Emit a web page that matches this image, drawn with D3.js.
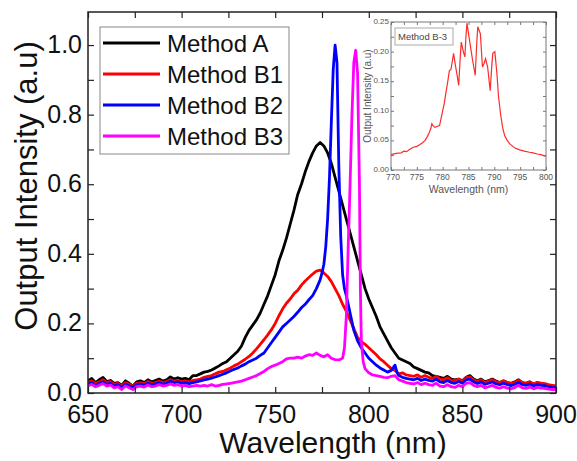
<!DOCTYPE html>
<html><head><meta charset="utf-8">
<script src="https://cdn.jsdelivr.net/npm/d3@7/dist/d3.min.js"></script>
<style>body{margin:0;background:#fff}svg{display:block;font-family:"Liberation Sans",Arial,sans-serif}</style>
</head><body><svg id="c" width="577" height="461"></svg>
<script>
// ---- data ----
const seriesNames = ["Method A", "Method B1", "Method B2", "Method B3"];
const seriesColors = ["#000000", "#ff0000", "#0000ff", "#ff00ff"];
const xTicks = [650, 700, 750, 800, 850, 900];
const yTicks = [0.0, 0.2, 0.4, 0.6, 0.8, 1.0];
const insetXTicks = [770, 775, 780, 785, 790, 795, 800];
const insetYTicks = [0.00, 0.05, 0.10, 0.15, 0.20, 0.25];

const methodA = [[650,0.035],[652,0.042],[654,0.03],[656,0.038],[658,0.045],[660,0.033],[662,0.036],[664,0.028],[666,0.03],[668,0.022],[670,0.035],[672,0.028],[674,0.02],[676,0.032],[678,0.035],[680,0.03],[682,0.038],[684,0.032],[686,0.036],[688,0.04],[690,0.034],[692,0.038],[694,0.046],[696,0.04],[698,0.044],[700,0.04],[702,0.042],[704,0.038],[706,0.05],[708,0.05],[710,0.055],[712,0.06],[714,0.062],[716,0.066],[718,0.072],[720,0.078],[722,0.085],[724,0.09],[726,0.1],[728,0.11],[730,0.12],[732,0.135],[734,0.16],[736,0.18],[738,0.195],[740,0.21],[742,0.23],[744,0.255],[746,0.28],[748,0.31],[750,0.34],[752,0.38],[754,0.41],[756,0.445],[758,0.485],[760,0.525],[762,0.57],[764,0.6],[766,0.635],[768,0.665],[770,0.69],[772,0.71],[774,0.72],[776,0.71],[778,0.69],[780,0.66],[782,0.62],[784,0.58],[786,0.54],[788,0.5],[790,0.46],[792,0.42],[794,0.38],[796,0.34],[798,0.3],[800,0.27],[802,0.245],[804,0.22],[806,0.19],[808,0.17],[810,0.15],[812,0.13],[814,0.115],[816,0.1],[818,0.095],[820,0.09],[822,0.085],[824,0.075],[826,0.07],[828,0.065],[830,0.06],[832,0.058],[834,0.05],[836,0.048],[838,0.045],[840,0.042],[842,0.048],[844,0.04],[846,0.038],[848,0.04],[850,0.035],[852,0.045],[854,0.05],[856,0.04],[858,0.035],[860,0.04],[862,0.032],[864,0.036],[866,0.04],[868,0.034],[870,0.03],[872,0.035],[874,0.03],[876,0.028],[878,0.032],[880,0.038],[882,0.03],[884,0.028],[886,0.032],[888,0.025],[890,0.03],[892,0.028],[894,0.025],[896,0.022],[898,0.02],[900,0.018]];

const methodB1 = [[650,0.03],[652,0.035],[654,0.028],[656,0.032],[658,0.038],[660,0.03],[662,0.033],[664,0.025],[666,0.028],[668,0.02],[670,0.03],[672,0.025],[674,0.02],[676,0.028],[678,0.03],[680,0.027],[682,0.033],[684,0.028],[686,0.03],[688,0.034],[690,0.03],[692,0.033],[694,0.038],[696,0.034],[698,0.036],[700,0.033],[702,0.035],[704,0.032],[706,0.036],[708,0.038],[710,0.04],[712,0.045],[714,0.048],[716,0.05],[718,0.055],[720,0.06],[722,0.062],[724,0.067],[726,0.072],[728,0.078],[730,0.083],[732,0.09],[734,0.097],[736,0.105],[738,0.115],[740,0.127],[742,0.14],[744,0.153],[746,0.167],[748,0.182],[750,0.2],[752,0.222],[754,0.242],[756,0.258],[758,0.27],[760,0.285],[762,0.295],[764,0.31],[766,0.322],[768,0.332],[770,0.342],[772,0.35],[774,0.353],[776,0.345],[778,0.335],[780,0.32],[782,0.3],[784,0.28],[786,0.255],[788,0.235],[790,0.21],[792,0.185],[794,0.16],[796,0.148],[798,0.14],[800,0.13],[802,0.12],[804,0.11],[806,0.098],[808,0.09],[810,0.08],[812,0.07],[814,0.065],[816,0.055],[818,0.058],[820,0.052],[822,0.05],[824,0.048],[826,0.052],[828,0.045],[830,0.05],[832,0.045],[834,0.042],[836,0.048],[838,0.04],[840,0.038],[842,0.044],[844,0.036],[846,0.035],[848,0.04],[850,0.034],[852,0.044],[854,0.046],[856,0.038],[858,0.033],[860,0.038],[862,0.03],[864,0.034],[866,0.038],[868,0.032],[870,0.03],[872,0.034],[874,0.03],[876,0.027],[878,0.03],[880,0.036],[882,0.03],[884,0.028],[886,0.032],[888,0.026],[890,0.03],[892,0.028],[894,0.027],[896,0.024],[898,0.022],[900,0.02]];

const methodB2 = [[650,0.025],[652,0.03],[654,0.022],[656,0.027],[658,0.032],[660,0.025],[662,0.028],[664,0.02],[666,0.024],[668,0.016],[670,0.026],[672,0.02],[674,0.016],[676,0.024],[678,0.026],[680,0.022],[682,0.028],[684,0.024],[686,0.026],[688,0.03],[690,0.026],[692,0.028],[694,0.034],[696,0.03],[698,0.032],[700,0.028],[702,0.03],[704,0.027],[706,0.03],[708,0.032],[710,0.035],[712,0.038],[714,0.04],[716,0.043],[718,0.046],[720,0.05],[722,0.054],[724,0.058],[726,0.063],[728,0.068],[730,0.072],[732,0.078],[734,0.083],[736,0.09],[738,0.095],[740,0.1],[742,0.108],[744,0.115],[746,0.13],[748,0.145],[750,0.16],[752,0.175],[754,0.19],[756,0.2],[758,0.21],[760,0.22],[762,0.232],[764,0.245],[766,0.255],[768,0.268],[770,0.28],[772,0.3],[774,0.325],[775,0.345],[776,0.37],[777,0.42],[778,0.5],[779,0.62],[780,0.78],[781,0.93],[782,1.0],[783,0.95],[784,0.65],[785,0.45],[786,0.34],[787,0.3],[788,0.28],[790,0.23],[792,0.18],[794,0.15],[796,0.13],[798,0.115],[800,0.1],[802,0.09],[804,0.08],[806,0.072],[808,0.066],[810,0.06],[812,0.065],[814,0.08],[815,0.06],[816,0.05],[818,0.045],[820,0.042],[822,0.04],[824,0.038],[826,0.042],[828,0.036],[830,0.04],[832,0.036],[834,0.034],[836,0.04],[838,0.032],[840,0.03],[842,0.036],[844,0.03],[846,0.028],[848,0.033],[850,0.028],[852,0.038],[854,0.04],[856,0.032],[858,0.027],[860,0.032],[862,0.025],[864,0.028],[866,0.032],[868,0.026],[870,0.024],[872,0.028],[874,0.024],[876,0.021],[878,0.025],[880,0.03],[882,0.024],[884,0.022],[886,0.026],[888,0.02],[890,0.024],[892,0.022],[894,0.021],[896,0.018],[898,0.016],[900,0.015]];

const methodB3 = [[650,0.02],[652,0.025],[654,0.018],[656,0.022],[658,0.027],[660,0.02],[662,0.023],[664,0.015],[666,0.018],[668,0.01],[670,0.02],[672,0.015],[674,0.01],[676,0.018],[678,0.02],[680,0.017],[682,0.023],[684,0.018],[686,0.02],[688,0.024],[690,0.02],[692,0.022],[694,0.026],[696,0.022],[698,0.024],[700,0.02],[702,0.022],[704,0.018],[706,0.02],[708,0.022],[710,0.02],[712,0.022],[714,0.02],[716,0.024],[718,0.02],[720,0.022],[722,0.025],[724,0.026],[726,0.028],[728,0.03],[730,0.032],[732,0.034],[734,0.038],[736,0.042],[738,0.046],[740,0.05],[742,0.056],[744,0.062],[746,0.07],[748,0.076],[750,0.08],[752,0.085],[754,0.09],[756,0.098],[758,0.1],[760,0.1],[762,0.103],[764,0.1],[766,0.106],[768,0.11],[770,0.108],[772,0.115],[774,0.108],[776,0.104],[778,0.11],[780,0.1],[782,0.096],[784,0.095],[786,0.1],[787,0.13],[788,0.22],[789,0.42],[790,0.6],[791,0.8],[792,0.95],[793,0.985],[794,0.92],[795,0.6],[795.5,0.3],[796,0.15],[797,0.09],[798,0.07],[800,0.058],[802,0.052],[804,0.05],[806,0.048],[808,0.045],[810,0.044],[812,0.048],[814,0.05],[816,0.038],[818,0.034],[820,0.03],[822,0.028],[824,0.026],[826,0.03],[828,0.024],[830,0.028],[832,0.024],[834,0.022],[836,0.028],[838,0.02],[840,0.018],[842,0.024],[844,0.018],[846,0.016],[848,0.022],[850,0.018],[852,0.028],[854,0.03],[856,0.022],[858,0.018],[860,0.022],[862,0.015],[864,0.018],[866,0.022],[868,0.016],[870,0.014],[872,0.018],[874,0.014],[876,0.012],[878,0.016],[880,0.022],[882,0.015],[884,0.013],[886,0.017],[888,0.012],[890,0.016],[892,0.014],[894,0.013],[896,0.011],[898,0.01],[900,0.01]];

const insetB3 = [[770,0.026],[771,0.028],[772,0.029],[772.5,0.032],[773,0.031],[773.5,0.034],[774.2,0.038],[775,0.04],[775.6,0.043],[776.1,0.046],[776.6,0.05],[777,0.056],[777.4,0.063],[777.7,0.07],[777.9,0.078],[778.2,0.074],[778.5,0.072],[779,0.074],[779.4,0.075],[780,0.1],[780.3,0.112],[780.6,0.129],[781,0.15],[781.3,0.168],[781.6,0.17],[781.9,0.185],[782.1,0.197],[782.5,0.175],[782.8,0.16],[783.1,0.143],[783.4,0.19],[783.6,0.216],[784,0.2],[784.3,0.191],[784.5,0.225],[784.7,0.248],[785.2,0.219],[785.8,0.185],[786.3,0.16],[786.6,0.215],[786.8,0.242],[787.3,0.23],[787.7,0.174],[788,0.18],[788.3,0.188],[788.7,0.174],[789.2,0.134],[789.5,0.175],[789.7,0.197],[790.1,0.2],[790.5,0.163],[790.8,0.125],[791.2,0.095],[791.6,0.072],[792,0.058],[792.5,0.05],[793,0.044],[794,0.037],[794.9,0.034],[795.8,0.032],[796.8,0.03],[797.5,0.029],[798.3,0.027],[799,0.026],[799.7,0.024],[800,0.024]];

const allSeries = [methodA, methodB1, methodB2, methodB3];

// ---- layout ----
const svg = d3.select("#c");
const L = 88, R = 556, T = 12, B = 393;
const x = d3.scaleLinear().domain([650, 900]).range([L, R]);
const y = d3.scaleLinear().domain([0, 1.095]).range([B, T]);

svg.append("clipPath").attr("id","cp").append("rect")
  .attr("x",L).attr("y",T).attr("width",R-L).attr("height",B-T);

const line = d3.line().x(d=>x(d[0])).y(d=>y(d[1]));
svg.append("g").attr("clip-path","url(#cp)").selectAll("path").data(allSeries).join("path")
  .attr("d", line).attr("fill","none")
  .attr("stroke",(d,i)=>seriesColors[i]).attr("stroke-width",2.8).attr("stroke-linejoin","round");

// axes (inward ticks)
const xMinor = d3.range(650, 901, 25);
const yMinor = d3.range(0, 1.05, 0.1);
function ticksAxis(g, axisGen){ g.call(axisGen); g.select(".domain").remove(); g.selectAll("text").remove(); g.selectAll("line").attr("stroke","#222").attr("stroke-width",1.2); }
svg.append("g").attr("transform",`translate(0,${B})`).call(g=>ticksAxis(g, d3.axisBottom(x).tickValues(xMinor).tickSize(-6)));
svg.append("g").attr("transform",`translate(0,${T})`).call(g=>ticksAxis(g, d3.axisTop(x).tickValues(xMinor).tickSize(-6)));
svg.append("g").attr("transform",`translate(${L},0)`).call(g=>ticksAxis(g, d3.axisLeft(y).tickValues(yMinor).tickSize(-6)));
svg.append("g").attr("transform",`translate(${R},0)`).call(g=>ticksAxis(g, d3.axisRight(y).tickValues(yMinor).tickSize(-6)));
svg.append("rect").attr("x",L).attr("y",T).attr("width",R-L).attr("height",B-T)
  .attr("fill","none").attr("stroke","#222").attr("stroke-width",1.5);

// tick labels
svg.append("g").selectAll("text").data(xTicks).join("text")
  .attr("x",d=>x(d)).attr("y",423).attr("text-anchor","middle")
  .attr("font-size",25).attr("fill","#111").text(d=>d);
svg.append("g").selectAll("text").data(yTicks).join("text")
  .attr("x",82).attr("y",d=>y(d)+8).attr("text-anchor","end")
  .attr("font-size",25).attr("fill","#111").text(d=>d.toFixed(1));

// axis titles
svg.append("text").attr("x",333).attr("y",453).attr("text-anchor","middle")
  .attr("font-size",30).attr("fill","#111").text("Wavelength (nm)");
svg.append("text").attr("transform","translate(37,186) rotate(-90)").attr("text-anchor","middle")
  .attr("font-size",31).attr("fill","#111").text("Output Intensity (a.u)");

// legend
const lg = svg.append("g");
lg.append("rect").attr("x",100).attr("y",27).attr("width",189).attr("height",127)
  .attr("fill","#fff").attr("stroke","#888").attr("stroke-width",1);
const rowY = [43, 74, 105, 136];
seriesNames.forEach((n,i)=>{
  lg.append("line").attr("x1",103).attr("x2",160).attr("y1",rowY[i]).attr("y2",rowY[i])
    .attr("stroke",seriesColors[i]).attr("stroke-width",3);
  lg.append("text").attr("x",167).attr("y",rowY[i]+9).attr("font-size",24).attr("fill","#111").text(n);
});

// inset
const iL = 391, iR = 546, iT = 22, iB = 170;
const ix = d3.scaleLinear().domain([770, 800]).range([iL, iR]);
const iy = d3.scaleLinear().domain([0, 0.25]).range([iB, iT]);
const ig = svg.append("g");
ig.append("rect").attr("x",iL).attr("y",iT).attr("width",iR-iL).attr("height",iB-iT)
  .attr("fill","#fff").attr("stroke","#777").attr("stroke-width",1);
const ixm = d3.range(770, 800.1, 2.5), iym = d3.range(0, 0.251, 0.025);
function iticks(g){ g.select(".domain").remove(); g.selectAll("text").remove(); g.selectAll("line").attr("stroke","#777"); }
ig.append("g").attr("transform",`translate(0,${iB})`).call(d3.axisBottom(ix).tickValues(ixm).tickSize(-3)).call(iticks);
ig.append("g").attr("transform",`translate(0,${iT})`).call(d3.axisTop(ix).tickValues(ixm).tickSize(-3)).call(iticks);
ig.append("g").attr("transform",`translate(${iL},0)`).call(d3.axisLeft(iy).tickValues(iym).tickSize(-3)).call(iticks);
ig.append("g").attr("transform",`translate(${iR},0)`).call(d3.axisRight(iy).tickValues(iym).tickSize(-3)).call(iticks);
ig.append("path").datum(insetB3).attr("fill","none").attr("stroke","#ff2a2a").attr("stroke-width",1.2)
  .attr("d", d3.line().x(d=>ix(d[0])).y(d=>iy(d[1])));
ig.append("g").selectAll("text").data(insetXTicks).join("text")
  .attr("x",d=>ix(d)+(d===770?2:0)).attr("y",180).attr("text-anchor","middle")
  .attr("font-size",8.5).attr("fill","#555").text(d=>d);
ig.append("g").selectAll("text").data(insetYTicks).join("text")
  .attr("x",389).attr("y",d=>iy(d)+2).attr("text-anchor","end")
  .attr("font-size",8).attr("fill","#555").text(d=>d.toFixed(2));
ig.append("text").attr("x",(iL+iR)/2).attr("y",193).attr("text-anchor","middle")
  .attr("font-size",10.5).attr("fill","#555").text("Wavelength (nm)");
ig.append("text").attr("transform",`translate(371,${(iT+iB)/2}) rotate(-90)`).attr("text-anchor","middle")
  .attr("font-size",10).attr("fill","#555").text("Output Intensity (a.u)");
ig.append("rect").attr("x",395).attr("y",28).attr("width",58).attr("height",17)
  .attr("fill","#fff").attr("stroke","#aaa").attr("stroke-width",1);
ig.append("text").attr("x",398).attr("y",40).attr("font-size",9.5).attr("fill","#444").text("Method B-3");
</script></body></html>
